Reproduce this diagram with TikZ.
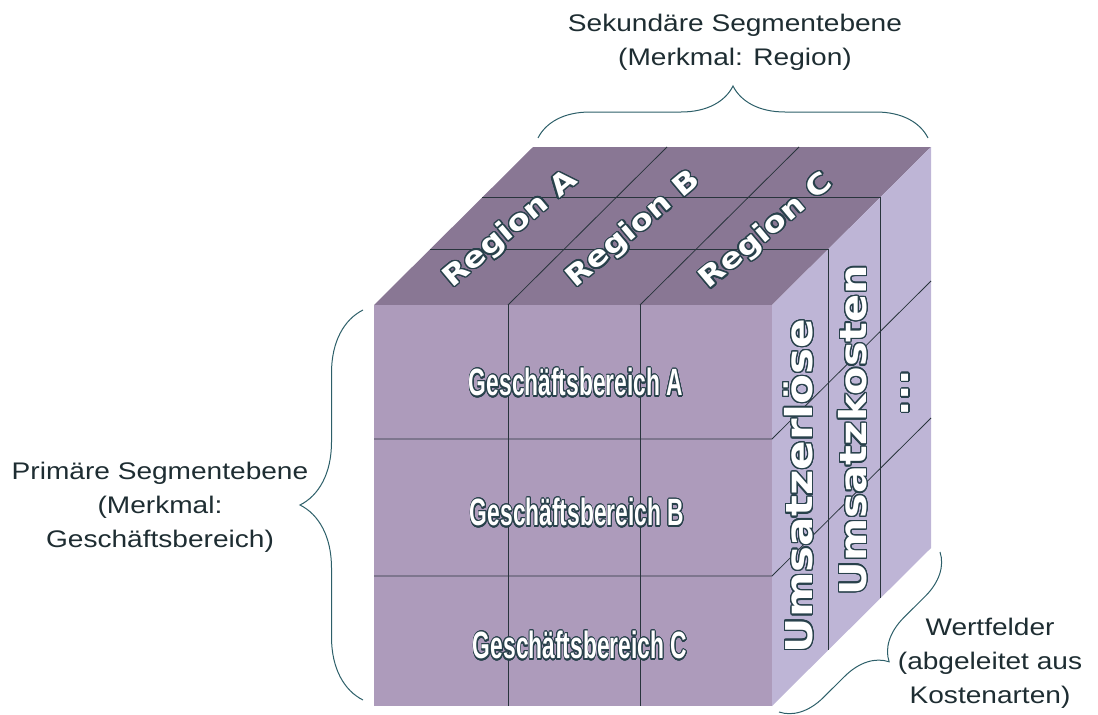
\documentclass[tikz,border=0pt]{standalone}
\usepackage{fontspec}
\setmainfont{Liberation Sans}
\newfontfamily\cubefont{DejaVu Sans}
\usepackage[copies]{contour}
\contourlength{1.2pt}
\contournumber{24}
\usetikzlibrary{decorations.pathreplacing}
\definecolor{topface}{RGB}{137,119,148}
\definecolor{frontface}{RGB}{173,155,187}
\definecolor{sideface}{RGB}{190,181,214}
\definecolor{cubeline}{RGB}{40,52,60}
\definecolor{bracecol}{RGB}{45,95,105}
\definecolor{labelcol}{RGB}{30,45,50}
\definecolor{rimcol}{RGB}{40,65,75}
\newcommand{\outlined}[2][1]{\scalebox{#1}[1]{\contour{rimcol}{#2}}}
\tikzset{
	cubeedge/.style={line width=0.8pt, color=cubeline},
	bracket/.style={decorate, decoration={brace, amplitude=#1}, line width=1pt, color=bracecol},
	caption/.style={align=center, text=labelcol, font=\fontsize{24}{34}\selectfont, xscale=1.17},
	fronttext/.style={text=white, font=\fontsize{38}{38}\selectfont\bfseries},
	sidetext/.style={text=white, font=\cubefont\fontsize{37}{37}\selectfont\bfseries, rotate=90},
	toptext/.style={text=white, font=\cubefont\fontsize{28}{28}\selectfont\bfseries, rotate=40}
}

\begin{document}
\begin{tikzpicture}[x=1pt, y=-1pt]
	%%%%% START %%%%%
	\useasboundingbox (0, 0) rectangle (1098, 715);
	
	\coordinate (ftl) at (374, 305);
	\coordinate (ftr) at (772, 305);
	\coordinate (fbr) at (772, 706);
	\coordinate (fbl) at (374, 706);
	\coordinate (btl) at (533, 147);
	\coordinate (btr) at (931, 147);
	\coordinate (bbr) at (931, 548);
	
	% faces
	\fill[topface] (ftl) -- (btl) -- (btr) -- (ftr) -- cycle;
	\fill[frontface] (ftl) rectangle (fbr);
	\fill[sideface] (ftr) -- (btr) -- (bbr) -- (fbr) -- cycle;
	
	% front grid
	\draw[cubeedge] (508, 305) -- (508, 706);
	\draw[cubeedge] (640, 305) -- (640, 706);
	\draw[cubeedge] (374, 439) -- (772, 439) -- (931, 281);
	\draw[cubeedge] (374, 576) -- (772, 576) -- (931, 418);
	
	% top grid
	\draw[cubeedge] (508, 305) -- (667, 147);
	\draw[cubeedge] (640, 305) -- (799, 147);
	\draw[cubeedge] (430, 249) -- (828, 249) -- (828, 650);
	\draw[cubeedge] (482, 197) -- (880, 197) -- (880, 598);
	
	% texts on the cube
	\node[fronttext] (bereichA) at (576, 383) {\outlined[0.6]{Geschäftsbereich A}};
	\node[fronttext] (bereichB) at (577, 513) {\outlined[0.6]{Geschäftsbereich B}};
	\node[fronttext] (bereichC) at (580, 646) {\outlined[0.6]{Geschäftsbereich C}};
	
	\node[toptext] (regionA) at (511, 230) {\outlined[1.17]{Region A}};
	\node[toptext] (regionB) at (634, 230) {\outlined[1.17]{Region B}};
	\node[toptext] (regionC) at (767, 232) {\outlined[1.17]{Region C}};
	
	\node[sidetext] (erloese) at (799, 486) {\outlined[1.18]{Umsatzerlöse}};
	\node[sidetext] (kosten) at (853, 430) {\outlined[1.12]{Umsatzkosten}};
	\node[sidetext] (weitere) at (906, 393) {\outlined[1.1]{...}};
	
	% braces
	\coordinate (leftT) at (363, 310);
	\coordinate (leftB) at (363, 700);
	\draw[bracket=63] (leftB) -- (leftT);
	
	\coordinate (topL) at (538, 138);
	\coordinate (topR) at (928, 138);
	\draw[bracket=52] (topL) -- (topR);
	
	\coordinate (sideT) at (940, 552);
	\coordinate (sideB) at (779, 712);
	\draw[bracket=42] (sideT) -- (sideB);
	
	\node[caption] (primaer) at (160, 507) {Primäre Segmentebene\\(Merkmal:\\Geschäftsbereich)};
	\node[caption] (sekundaer) at (735, 42) {Sekundäre Segmentebene\\(Merkmal: Region)};
	\node[caption] (wertfelder) at (990, 663) {Wertfelder\\(abgeleitet aus\\Kostenarten)};
	
	%%%%% END %%%%%
\end{tikzpicture}
\end{document}
